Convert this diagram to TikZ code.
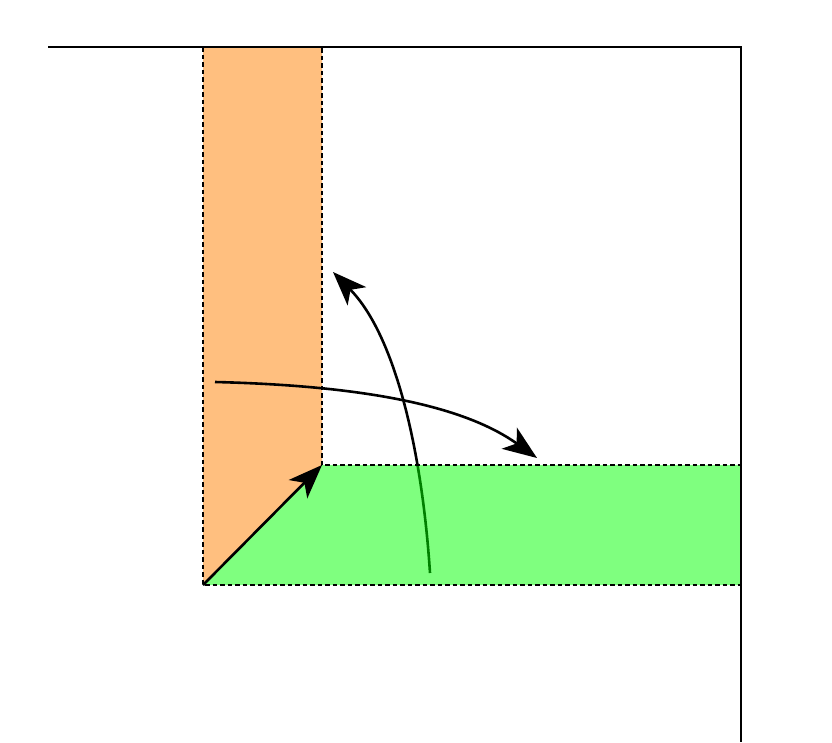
\documentclass[tikz,border=0pt]{standalone}
\usetikzlibrary{arrows.meta}
\begin{document}
\begin{tikzpicture}[x=1pt,y=-1pt,
  edge/.style={line width=2.4pt,line cap=butt},
  dotb/.style={line width=2.4pt,dash pattern=on 4.5pt off 3pt},
  bigtip/.style={-{Stealth[length=34pt,width=26pt,inset=9pt]}},
  curv/.style={line width=2.6pt}]
\useasboundingbox (0,0) rectangle (832,742);
\coordinate (TL) at (203,47);
\coordinate (TR) at (322,47);
\coordinate (C) at (322,465);
\coordinate (O) at (203,585);
\coordinate (GR) at (741,465);
\coordinate (GB) at (741,585);
% orange strip
\fill[orange,opacity=0.5] (TL) -- (TR) -- (C) -- (O) -- cycle;
% curves
\coordinate (a1) at (215,382);
\coordinate (a2) at (537,458);
\draw[curv,bigtip] (a1) .. controls (380,386) and (470,410) .. (a2);
\coordinate (b1) at (430,573);
\coordinate (b2) at (333,272);
\draw[curv,bigtip] (b1) .. controls (422,450) and (395,335) .. (b2);
% green strip
\fill[green,opacity=0.5] (O) -- (C) -- (GR) -- (GB) -- cycle;
% dotted borders
\draw[dotb] (TL) -- (O) -- (GB);
\draw[dotb] (TL) -- (TR) -- (C) -- (GR) -- (GB);
% diagonal arrow
\draw[curv,bigtip] (O) -- (C);
% frame
\draw[edge] (48,47) -- (741,47) -- (741,742);
\end{tikzpicture}
\end{document}
